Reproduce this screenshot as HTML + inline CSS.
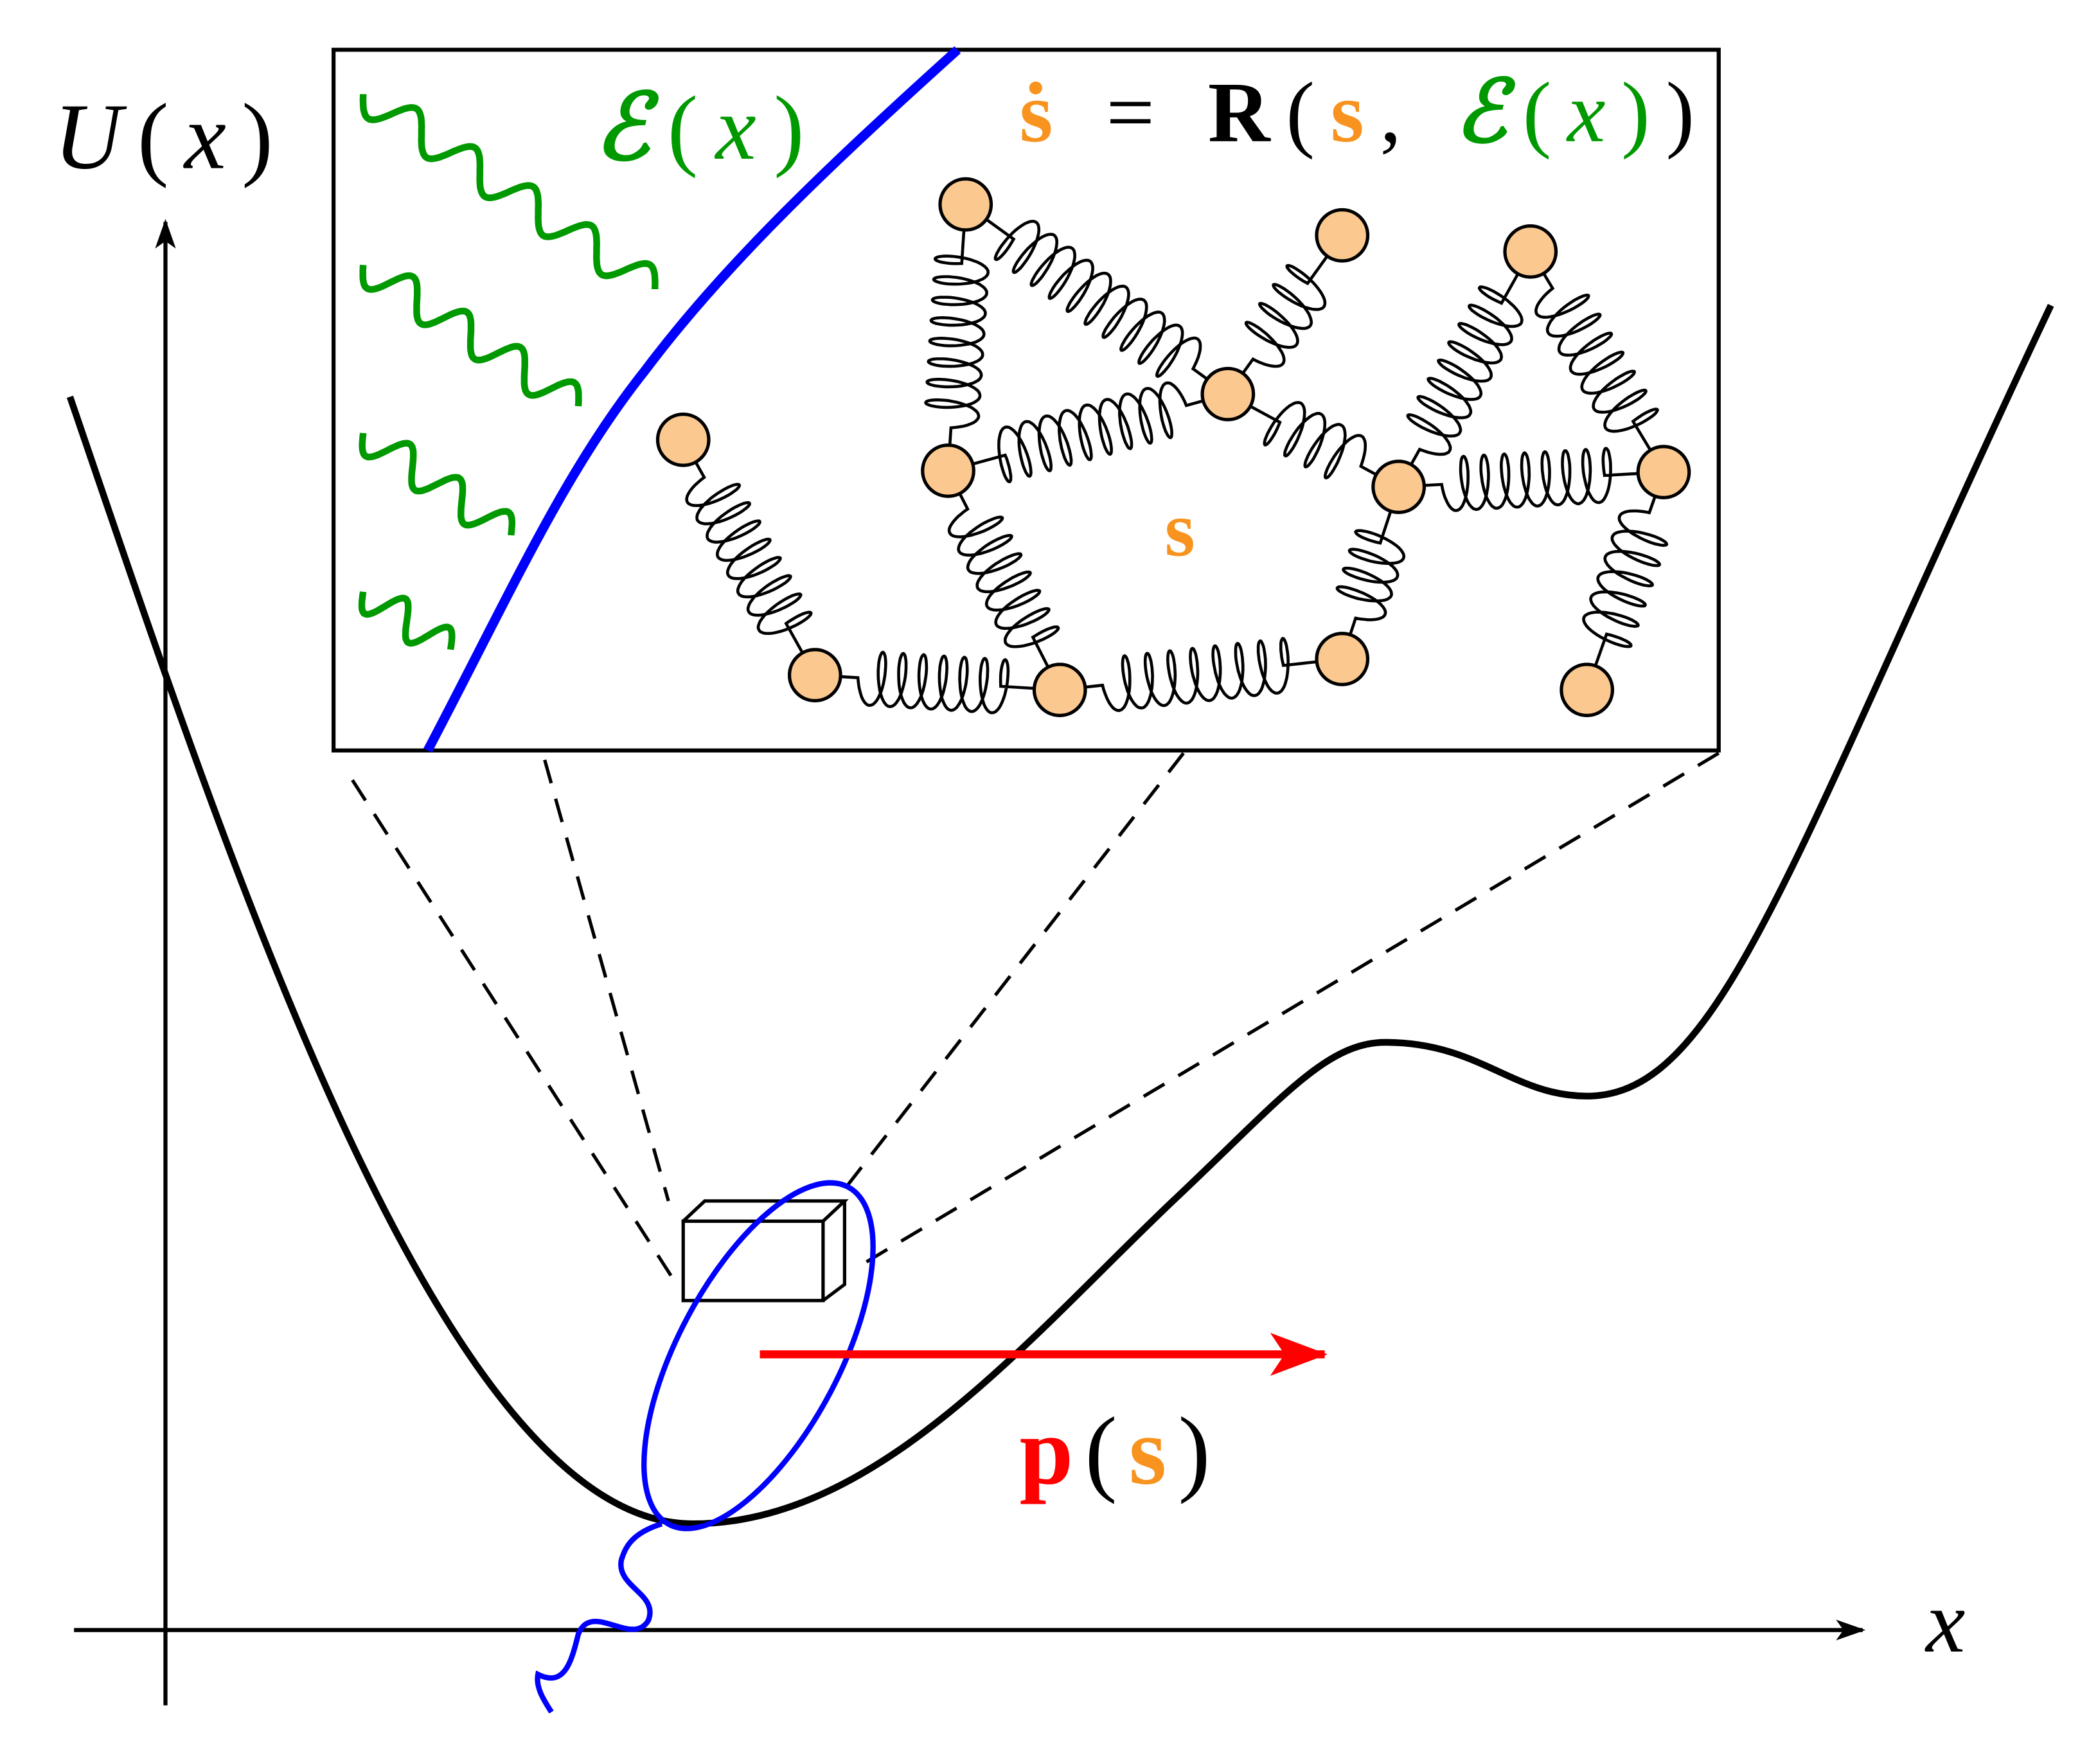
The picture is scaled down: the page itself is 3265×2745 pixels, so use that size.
<!DOCTYPE html>
<html><head><meta charset="utf-8"><style>
html,body{margin:0;padding:0;background:#fff;}
svg{display:block}
text{font-family:"Liberation Serif",serif;}
</style></head><body>
<svg id="s" width="3265" height="2745" viewBox="0 0 1560 1311.6" xmlns="http://www.w3.org/2000/svg">
<defs>
<marker id="ah" viewBox="0 0 20 14" refX="18" refY="7" markerWidth="22" markerHeight="16" markerUnits="userSpaceOnUse" orient="auto"><path d="M0,0 L20,7 L0,14 L5,7 Z" fill="#000"/></marker>
<marker id="rh" viewBox="0 0 40 30" refX="38" refY="15" markerWidth="44" markerHeight="32" markerUnits="userSpaceOnUse" orient="auto"><path d="M0,0 L40,15 L0,30 L10,15 Z" fill="#f00"/></marker>
</defs>
<line x1="123" y1="1268" x2="123" y2="165" stroke="#000" stroke-width="3" marker-end="url(#ah)"/>
<line x1="55" y1="1212" x2="1385" y2="1212" stroke="#000" stroke-width="3" marker-end="url(#ah)"/>
<text x="40" y="125" font-size="70" textLength="163" lengthAdjust="spacing"><tspan font-style="italic">U</tspan>(<tspan font-style="italic">x</tspan>)</text>
<text x="1432" y="1228" font-size="66" font-style="italic">x</text>
<g stroke="#000" stroke-width="2.5" stroke-dasharray="18,12" fill="none">
<line x1="262" y1="580" x2="505" y2="958"/>
<line x1="405" y1="565" x2="497" y2="893"/>
<line x1="880" y1="560" x2="625" y2="888"/>
<line x1="1278" y1="560" x2="638" y2="942"/>
</g>
<path d="M52,295 C170,640 330,1133 515,1133 C650,1133 760,1000 870,895 C950,820 985,775 1030,775 C1100,775 1125,815 1180,815 C1280,815 1330,640 1525,227" fill="none" stroke="#000" stroke-width="5"/>
<g fill="none" stroke="#000" stroke-width="2.5">
<rect x="508" y="908" width="104" height="59"/>
<path d="M508,908 L524,893 L628,893 L612,908 M628,893 L628,955 L612,967"/>
</g>
<ellipse cx="564" cy="1008" rx="60" ry="142" transform="rotate(28 564 1008)" fill="none" stroke="#00f" stroke-width="4"/>
<path d="M492,1133 C470,1140 465,1150 462,1160 C458,1180 490,1185 482,1205 C470,1225 440,1190 430,1215 C425,1235 420,1255 400,1245 C398,1255 405,1265 410,1273" fill="none" stroke="#00f" stroke-width="4"/>
<line x1="565" y1="1007" x2="985" y2="1007" stroke="#f00" stroke-width="6" marker-end="url(#rh)"/>
<text x="758" y="1103" font-size="72" textLength="142" lengthAdjust="spacing"><tspan font-weight="bold" fill="#f00">p</tspan>(<tspan font-weight="bold" fill="#f7931e">s</tspan>)</text>
<rect x="248" y="37" width="1030" height="521" fill="#fff" stroke="#000" stroke-width="3"/>
<path d="M318,558 C380,440 420,350 480,275 C540,195 620,120 712,37" fill="none" stroke="#00f" stroke-width="7"/>
<g id="waves" fill="none" stroke="#090" stroke-width="5"></g>
<text x="442" y="118" font-size="68" fill="#090" textLength="156" lengthAdjust="spacing"><tspan font-weight="bold" font-style="italic">ℰ</tspan>(<tspan font-style="italic">x</tspan>)</text>
<text x="758" y="105" font-size="64" textLength="502" lengthAdjust="spacing"><tspan font-weight="bold" fill="#f7931e">ṡ</tspan> = <tspan font-weight="bold">R</tspan>(<tspan font-weight="bold" fill="#f7931e">s</tspan>, <tspan fill="#090"><tspan font-weight="bold" font-style="italic">ℰ</tspan>(<tspan font-style="italic">x</tspan>)</tspan>)</text>
<g id="springs" fill="none" stroke="#000" stroke-width="2.2"></g>
<g id="nodes" fill="#fbc98f" stroke="#000" stroke-width="2.5"></g>
<text x="866" y="413" font-size="58" font-weight="bold" fill="#f7931e">s</text>
</svg>
<script>
var NS="http://www.w3.org/2000/svg";
function el(p,t,a){var e=document.createElementNS(NS,t);for(var k in a)e.setAttribute(k,a[k]);p.appendChild(e);return e;}
var W=document.getElementById("waves");
[[270,70,487,215],[270,197,430,302],[270,322,380,398],[270,440,335,483]].forEach(function(w){
 var dx=w[2]-w[0],dy=w[3]-w[1],L=Math.hypot(dx,dy),ux=dx/L,uy=dy/L,px=-uy,py=ux,d="";
 var n=Math.round(L/50);var N=200;
 for(var i=0;i<=N;i++){var t=i/N,s=t*L,o=13*Math.sin(t*n*2*Math.PI);
  var x=w[0]+ux*s+px*o,y=w[1]+uy*s+py*o;d+=(i?"L":"M")+x.toFixed(1)+","+y.toFixed(1);}
 el(W,"path",{d:d});
});
var P={a:[508,327],b:[606,502],c:[788,513],d:[998,490],e:[1040,362],f:[1237,351],g:[1180,513],h:[1138,187],i:[998,175],j:[913,293],k:[705,350],l:[718,152]};
var E=[["a","b"],["b","c"],["c","d"],["d","e"],["e","h"],["h","f"],["f","g"],["e","f"],["e","j"],["j","i"],["j","l"],["j","k"],["k","l"],["k","c"]];
var S=document.getElementById("springs");
E.forEach(function(e){
 var A=P[e[0]],B=P[e[1]],dx=B[0]-A[0],dy=B[1]-A[1],L=Math.hypot(dx,dy),ux=dx/L,uy=dy/L,px=-uy,py=ux;
 var lead=32,a=6,b=20,cl=L-2*lead-2*a,n=Math.max(3,Math.round(cl/16)),pt=cl/n;
 var d="M"+A[0]+","+A[1];var N=n*40;
 for(var i=0;i<=N;i++){var th=i/N*n*2*Math.PI;
  var s=lead+pt*th/(2*Math.PI)-a*Math.cos(th)+a;
  var o=b*Math.sin(th);
  d+="L"+(A[0]+ux*s+px*o).toFixed(1)+","+(A[1]+uy*s+py*o).toFixed(1);}
 d+="L"+B[0]+","+B[1];
 el(S,"path",{d:d});
});
var Nd=document.getElementById("nodes");
for(var k in P)el(Nd,"circle",{cx:P[k][0],cy:P[k][1],r:19});
</script>
</body></html>
